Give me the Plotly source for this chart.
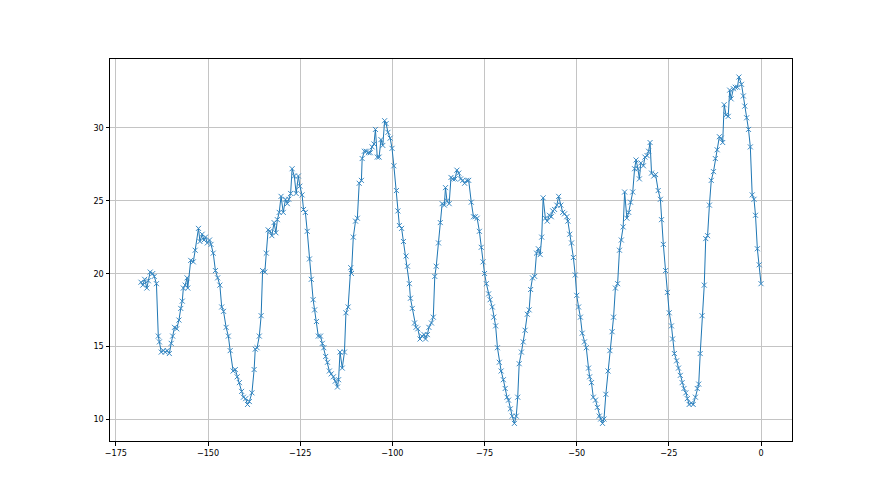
import plotly.graph_objects as go

x_vals = [
    -168.2, -167.7, -167.2, -166.6, -166.2, -165.7, -165.0, -164.6, -164.0, -163.5,
    -163.2, -162.7, -162.1, -161.6, -161.1, -160.5, -160.0, -159.6, -159.1, -158.5,
    -157.9, -157.4, -157.0, -156.7, -156.2, -155.7, -155.5, -154.7, -154.0, -153.5,
    -152.6, -152.2, -151.6, -151.1, -150.7, -150.2, -149.6, -149.2, -148.6, -148.0,
    -147.4, -146.8, -146.3, -145.8, -145.1, -144.5, -144.0, -143.2, -142.6, -142.1,
    -141.5, -140.9, -140.4, -139.8, -139.3, -138.8, -138.1, -137.5, -137.2,
    -136.7, -136.1, -135.6, -135.2, -134.6, -134.2, -133.7, -133.2, -132.7, -132.1,
    -131.6, -131.2, -130.7, -130.2, -129.6, -129.0, -128.5, -128.1, -127.6, -127.2,
    -126.6, -126.1, -125.5, -125.1, -124.5, -124.1, -123.6, -123.1, -122.5, -122.0,
    -121.5, -121.1, -120.6, -120.1, -119.5, -119.0, -118.6, -118.1, -117.6, -117.1,
    -116.6, -116.0, -115.5, -114.9, -114.6, -114.2, -113.6, -113.0,
    -112.6, -112.0, -111.3, -111.1, -110.6, -110.0, -109.5, -109.0, -108.4, -108.2,
    -107.6, -107.1, -106.5, -106.0, -105.5, -105.0, -104.6, -104.1, -103.6, -103.1,
    -102.6, -102.1, -101.7, -101.2, -100.6, -100.1, -99.6, -98.9, -98.5, -98.1,
    -97.5, -97.0, -96.3, -95.9, -95.4, -95.1, -94.6, -94.0, -93.6, -93.1,
    -92.5, -92.0, -91.4, -91.0, -90.5, -90.1, -89.4, -88.9, -88.5, -88.1,
    -87.5, -87.0, -86.5, -85.9, -85.6, -85.2, -84.6, -84.1, -83.6, -83.0,
    -82.5, -82.0, -81.5, -80.9, -80.4, -79.8, -79.3, -78.6, -78.0, -77.5,
    -77.0, -76.4, -75.9, -75.4, -75.0, -74.5, -73.9, -73.5, -72.9, -72.5,
    -72.0, -71.5, -71.0, -70.5, -69.9, -69.4, -68.9, -68.5, -68.0, -67.5,
    -66.9, -66.4, -66.0, -65.6, -65.0, -64.5, -64.0, -63.4, -62.9, -62.5,
    -62.0, -61.4, -60.9, -60.4, -59.9, -59.5, -59.1, -58.5, -58.0, -57.4,
    -56.9, -56.5, -56.0, -55.4, -54.9, -54.3, -53.8, -53.3, -52.7, -52.4,
    -51.9, -51.4, -50.9, -50.4, -50.0, -49.5, -49.0, -48.5, -47.9, -47.4,
    -46.8, -46.5, -46.0, -45.5, -44.9, -44.4, -43.9, -43.5, -43.0, -42.6,
    -42.1, -41.5, -41.0, -40.4, -40.0, -39.5, -38.9, -38.4, -37.9, -37.4,
    -37.0, -36.4, -35.9, -35.4, -34.8,
    -34.3, -33.9, -33.4, -33.0, -32.6, -31.9, -31.5, -30.9, -30.5, -30.1,
    -29.7, -29.1, -28.6, -27.9, -27.3, -27.0, -26.5, -25.9, -25.4, -24.9,
    -24.3, -24.0, -23.5, -22.9, -22.4, -21.9, -21.4, -20.9, -20.4, -20.0,
    -19.5, -18.9, -18.4, -17.8, -17.3, -16.9, -16.5, -16.0, -15.4,
    -15.0, -14.5, -14.0, -13.5, -12.9, -12.4, -11.9, -11.3, -10.8, -10.4,
    -10.0, -9.5, -8.9, -8.5, -8.1, -7.5, -7.0, -6.4, -6.0, -5.3,
    -4.8, -4.4, -3.9, -3.4, -2.9, -2.4, -1.9, -1.5, -1.0, -0.5,
    0.0,
]

y_vals = [
    19.4, 19.2, 19.6, 19.0, 19.5, 20.1, 20.0, 19.8, 19.3, 15.7,
    15.3, 14.6, 14.7, 14.6, 14.7, 14.5, 15.2, 15.7, 16.3, 16.2,
    16.8, 17.6, 18.1, 19.0, 19.2, 19.7, 19.0, 20.9, 20.8, 21.6,
    23.1, 22.2, 22.7, 22.3, 22.5, 22.1, 22.3, 22.0, 21.4, 20.2,
    19.7, 19.2, 17.7, 17.4, 16.3, 15.7, 14.7, 13.3, 13.4, 12.9,
    12.5, 11.9, 11.5, 11.4, 11.0, 11.2, 11.8, 13.4, 14.8,
    14.9, 15.7, 17.1, 20.2, 20.1, 21.4, 23.0, 22.9, 22.6, 23.5,
    22.8, 23.7, 24.2, 25.3, 24.2, 25.1, 24.8, 25.1, 25.5, 27.2,
    26.7, 25.5, 26.7, 26.0, 25.4, 24.4, 24.2, 22.9, 21.0, 19.6,
    18.2, 17.5, 16.7, 15.7, 15.7, 15.2, 14.9, 14.3, 13.9, 13.3,
    13.1, 12.9, 12.6, 12.2, 12.7, 14.6, 13.5, 14.6,
    17.3, 17.7, 20.4, 20.0, 22.5, 23.6, 23.8, 26.2, 26.4, 27.9,
    28.4, 28.4, 28.3, 28.3, 28.7, 28.9, 29.9, 28.0, 28.0, 29.2,
    28.8, 30.5, 30.3, 29.7, 29.3, 28.6, 27.4, 25.7, 24.3, 23.3,
    23.1, 22.2, 21.2, 20.5, 19.3, 18.3, 17.6, 16.6, 16.3, 16.2,
    15.5, 15.7, 15.8, 15.5, 15.8, 16.3, 16.6, 17.0, 19.8, 20.5,
    22.1, 23.5, 24.8, 24.7, 25.9, 25.0, 24.8, 26.6, 26.5, 26.5,
    27.1, 26.9, 26.5, 26.4, 26.2, 26.4, 26.4, 24.9, 23.9, 23.9,
    23.8, 22.9, 21.8, 20.8, 20.0, 19.3, 18.6, 18.2, 17.7, 17.0,
    16.4, 14.9, 13.9, 13.3, 12.7, 12.1, 11.5, 11.3, 10.7, 10.2,
    9.7, 10.2, 11.5, 13.8, 14.6, 15.3, 16.1, 17.2, 17.5, 18.9,
    19.7, 19.8, 21.4, 21.7, 21.3, 22.5, 25.2, 23.8, 23.6, 24.0,
    23.9, 24.3, 24.4, 24.7, 25.3, 24.7, 24.2, 24.1, 23.9, 23.6,
    22.7, 22.1, 21.1, 19.9, 18.5, 17.7, 17.0, 15.9, 15.3, 14.9,
    13.5, 12.9, 12.5, 11.5, 11.3, 10.8, 10.2, 10.0, 9.7, 10.0,
    11.7, 13.3, 14.7, 16.0, 17.0, 19.0, 19.3, 21.6, 22.3, 23.2,
    25.6, 23.8, 24.2, 24.9, 25.6,
    27.2, 27.8, 27.2, 26.5, 27.6, 27.4, 28.0, 28.1, 28.4, 29.0,
    26.9, 26.7, 26.8, 25.7, 25.1, 23.7, 22.0, 20.2, 18.7, 17.3,
    16.4, 15.5, 14.5, 14.0, 13.5, 13.0, 12.5, 12.1, 11.8, 11.4,
    11.0, 11.1, 11.0, 11.5, 12.1, 12.4, 14.5, 17.1, 19.2,
    22.4, 22.6, 24.7, 26.4, 27.0, 27.9, 28.5, 29.4, 29.3, 29.0,
    31.6, 30.9, 30.8, 32.6, 32.0, 32.7, 32.8, 32.8, 33.5, 33.0,
    32.2, 31.5, 30.7, 29.9, 28.7, 25.4, 25.1, 24.0, 21.7, 20.6,
    19.3,
]

x_ticks = [-175, -150, -125, -100, -75, -50, -25, 0]
x_tick_labels = ["\u2212175", "\u2212150", "\u2212125", "\u2212100", "\u221275", "\u221250", "\u221225", "0"]
y_ticks = [10, 15, 20, 25, 30]
y_tick_labels = ["10", "15", "20", "25", "30"]

fig = go.Figure()
fig.add_trace(go.Scatter(
    x=x_vals, y=y_vals, mode="lines+markers",
    line=dict(color="#1f77b4", width=1),
    marker=dict(symbol="x-thin", size=5, line=dict(color="#3a8ac4", width=1), color="#1f77b4"),
    showlegend=False,
))

axis_common = dict(
    showgrid=True, gridcolor="#c4c4c4", gridwidth=0.8,
    showline=True, linecolor="black", linewidth=1, mirror=True,
    ticks="outside", ticklen=3.5, tickcolor="black", tickwidth=0.8,
    zeroline=False,
    tickfont=dict(family="DejaVu Sans Condensed, DejaVu Sans", size=9, color="black"),
)

fig.update_layout(
    width=880, height=495,
    margin=dict(l=102, r=96, t=51, b=62),
    paper_bgcolor="white", plot_bgcolor="white",
    xaxis=dict(range=[-176.6, 8.4], tickvals=x_ticks, ticktext=x_tick_labels, **axis_common),
    yaxis=dict(range=[8.49, 34.74], tickvals=y_ticks, ticktext=y_tick_labels, **axis_common),
)

fig.write_html("out.html")
